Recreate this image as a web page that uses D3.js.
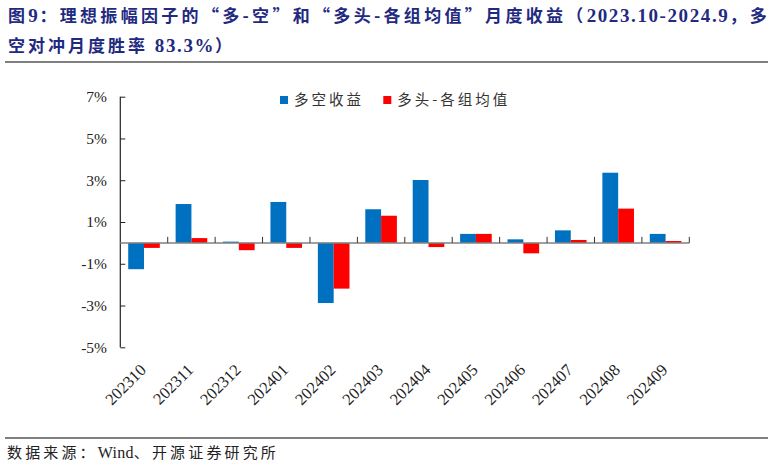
<!DOCTYPE html>
<html>
<head>
<meta charset="utf-8">
<script src="https://cdn.jsdelivr.net/npm/d3@7/dist/d3.min.js"></script>
<style>
  html, body { margin: 0; padding: 0; background: #fff; }
  svg { display: block; }
</style>
</head>
<body>
<script>
// title pieces: [text, isLatin]
const titleLine1 = [["图", 0], ["9", 1], ["：理想振幅因子的“多-空”和“多头-各组均值”月度收益（", 0], ["2023.10-2024.9", 1], ["，多", 0]];
const titleLine2 = [["空对冲月度胜率 ", 0], ["83.3%", 1], ["）", 0]];
const sourceLine = [["数据来源：", 0], ["Wind", 1], ["、开源证券研究所", 0]];

const categories = ["202310","202311","202312","202401","202402","202403","202404","202405","202406","202407","202408","202409"];
const seriesNames = ["多空收益", "多头-各组均值"];
const longShort = [-1.26, 1.86, 0.06, 1.96, -2.88, 1.61, 3.01, 0.43, 0.17, 0.60, 3.36, 0.43];
const longMinusAvg = [-0.24, 0.23, -0.35, -0.24, -2.19, 1.30, -0.20, 0.43, -0.50, 0.14, 1.64, 0.09];
const yTicks = [-5, -3, -1, 1, 3, 5, 7];
const colors = ["#0070C0", "#FF0000"];

const W = 774, H = 468;
const svg = d3.select("body").append("svg").attr("width", W).attr("height", H);

const CJK = "'Noto Sans CJK SC'";
const SERIF = "'Liberation Serif'";

// Latin runs get their own size/spacing; CJK runs get spacing solved to fit a target width
function richText(parts, x, y, opt) {
  const t = svg.append("text").attr("x", x).attr("y", y)
    .attr("font-weight", opt.weight).attr("fill", opt.fill);
  const cjkSpans = [];
  let nCjk = 0;
  parts.forEach(([s, latin]) => {
    const ts = t.append("tspan").text(s);
    if (latin) {
      ts.attr("font-family", SERIF).attr("font-size", opt.latinSize).attr("letter-spacing", opt.latinSpacing);
    } else {
      ts.attr("font-family", CJK).attr("font-size", opt.size).attr("letter-spacing", 0);
      cjkSpans.push(ts);
      nCjk += [...s].length;
    }
  });
  let sp = opt.cjkSpacing || 0;
  if (opt.target) {
    const natural = t.node().getComputedTextLength();
    sp = (opt.target - natural) / nCjk;
  }
  cjkSpans.forEach(ts => ts.attr("letter-spacing", sp));
  return t;
}

const titleColor = "#1F2A80";
richText(titleLine1, 8, 22, {weight: "bold", fill: titleColor, size: 17, latinSize: 19, latinSpacing: 1.6, target: 762});
richText(titleLine2, 8, 52, {weight: "bold", fill: titleColor, size: 17, latinSize: 19, latinSpacing: 1.6, cjkSpacing: 3});

svg.append("line").attr("x1", 5).attr("x2", 768).attr("y1", 62).attr("y2", 62)
  .attr("stroke", "#555").attr("stroke-width", 1.3);
svg.append("line").attr("x1", 5).attr("x2", 768).attr("y1", 438).attr("y2", 438)
  .attr("stroke", "#555").attr("stroke-width", 1.3);

richText(sourceLine, 7, 458, {weight: "normal", fill: "#222", size: 15, latinSize: 16, latinSpacing: 0.3, target: 272});

// Scales
const left = 120.3, right = 689.3;
const y = d3.scaleLinear().domain([-5, 7]).range([347.3, 96.7]);
const x0 = d3.scaleBand().domain(categories).range([left, right])
  .paddingInner(1/3).paddingOuter(1/6);
const x1 = d3.scaleBand().domain(seriesNames).range([0, x0.bandwidth()]);
const xStep = d3.scaleBand().domain(categories).range([left, right]).padding(0);

// Bars
const data = [longShort, longMinusAvg];
data.forEach((vals, si) => {
  svg.append("g").selectAll("rect").data(vals).join("rect")
    .attr("x", (d, i) => x0(categories[i]) + x1(seriesNames[si]))
    .attr("width", x1.bandwidth())
    .attr("y", d => y(Math.max(0, d)))
    .attr("height", d => Math.abs(y(d) - y(0)))
    .attr("fill", colors[si]);
});

// Y axis
const yAxis = d3.axisRight(y).tickValues(yTicks).tickSize(5).tickFormat("");
const gy = svg.append("g").attr("transform", `translate(${left},0)`).call(yAxis);
gy.select(".domain").remove();
gy.selectAll(".tick line").attr("stroke", "#222");
svg.append("line").attr("x1", left).attr("x2", left).attr("y1", y(7)).attr("y2", y(-5))
  .attr("stroke", "#222").attr("stroke-width", 1.2);
svg.append("g").selectAll("text").data(yTicks).join("text")
  .attr("x", 107).attr("y", d => y(d)).attr("dy", "0.35em")
  .attr("text-anchor", "end")
  .attr("font-family", SERIF).attr("font-size", 15.5).attr("fill", "#222")
  .text(d => d + "%");

// X axis at zero
svg.append("line").attr("x1", left).attr("x2", right).attr("y1", y(0)).attr("y2", y(0))
  .attr("stroke", "#808080").attr("stroke-width", 1.5);
const boundaries = categories.map(c => xStep(c) + xStep.step());
svg.append("g").selectAll("line").data(boundaries).join("line")
  .attr("x1", d => d).attr("x2", d => d)
  .attr("y1", y(0)).attr("y2", y(0) - 6)
  .attr("stroke", "#333").attr("stroke-width", 1);

// X labels
svg.append("g").selectAll("text").data(categories).join("text")
  .attr("transform", d => `translate(${x0(d) + x0.bandwidth()/2 + 3},371) rotate(-45)`)
  .attr("text-anchor", "end")
  .attr("font-family", SERIF).attr("font-size", 16.5).attr("fill", "#222")
  .text(d => d);

// Legend
const legendItems = [{x: 280, name: seriesNames[0], c: colors[0]}, {x: 383.3, name: seriesNames[1], c: colors[1]}];
const lg = svg.append("g");
legendItems.forEach(it => {
  lg.append("rect").attr("x", it.x).attr("y", 96).attr("width", 8).attr("height", 8).attr("fill", it.c);
  lg.append("text").attr("x", it.x + 14).attr("y", 100).attr("dy", "0.35em")
    .attr("font-family", CJK).attr("font-size", 14.5).attr("fill", "#333")
    .attr("letter-spacing", 3)
    .text(it.name);
});
</script>
</body>
</html>
